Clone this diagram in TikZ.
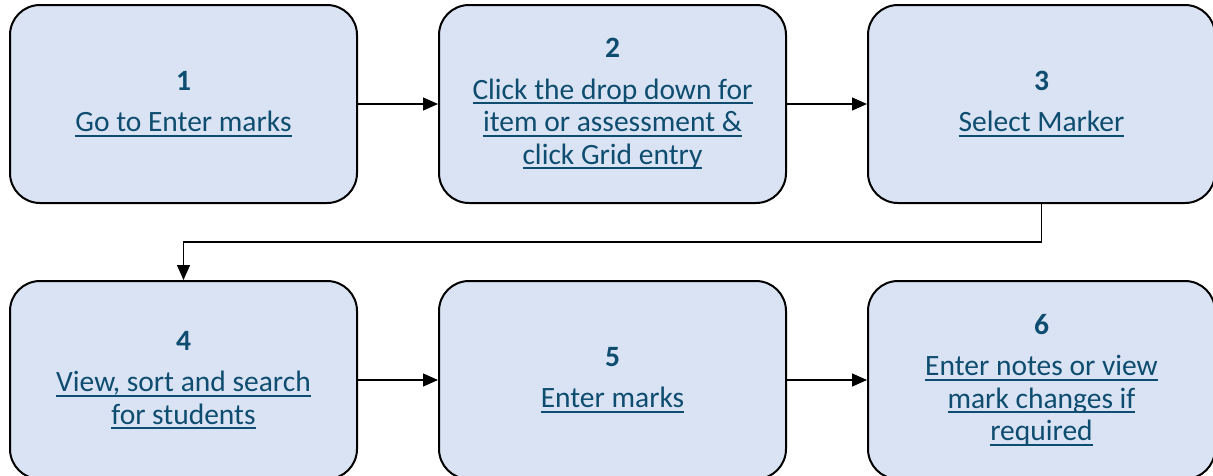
\documentclass[tikz,border=0pt]{standalone}
\usepackage{fontspec}
\setmainfont{Carlito}
\usetikzlibrary{positioning,arrows.meta}
\definecolor{boxfill}{HTML}{DAE3F3}
\definecolor{linkc}{HTML}{0E4D70}
% underlined link text, Word style
\newcommand{\lnk}[1]{\setbox0\hbox{#1}\rlap{\rule[-5pt]{\wd0}{2pt}}\box0}
\newcommand{\stepno}[1]{\textbf{#1}\\[9pt]}

\tikzset{
  stepbox/.style={draw=black,line width=2pt,fill=boxfill,rounded corners=30pt,
    minimum width=347pt,minimum height=198pt,align=center,text=linkc,
    font=\fontsize{29.5}{32.5}\selectfont},
  arr/.style={-{Triangle[length=15pt,width=13pt]},line width=1.3pt}
}

\begin{document}
\begin{tikzpicture}[x=1pt,y=-1pt]
  \useasboundingbox (0,0) rectangle (1213,475);

  % first row
  \node[stepbox] (s1) at (183.5,104) {\stepno{1}\lnk{Go to Enter marks}};
  \node[stepbox,right=80pt of s1] (s2) {\stepno{2}\lnk{Click the drop down for}\\
    \lnk{item or assessment \&}\\ \lnk{click Grid entry}};
  \node[stepbox,right=80pt of s2] (s3) {\stepno{3}\lnk{Select Marker}};

  % second row
  \node[stepbox,below=76pt of s1] (s4) {\stepno{4}\lnk{View, sort and search}\\
    \lnk{for students}};
  \node[stepbox,right=80pt of s4] (s5) {\stepno{5}\lnk{Enter marks}};
  \node[stepbox,right=80pt of s5] (s6) {\stepno{6}\lnk{Enter notes or view}\\
    \lnk{mark changes if}\\ \lnk{required}};

  \draw[arr] (s1) -- (s2);
  \draw[arr] (s2) -- (s3);
  \draw[arr] (s3.south) -- ++(0,38) -| (s4.north);
  \draw[arr] (s4) -- (s5);
  \draw[arr] (s5) -- (s6);
\end{tikzpicture}
\end{document}
